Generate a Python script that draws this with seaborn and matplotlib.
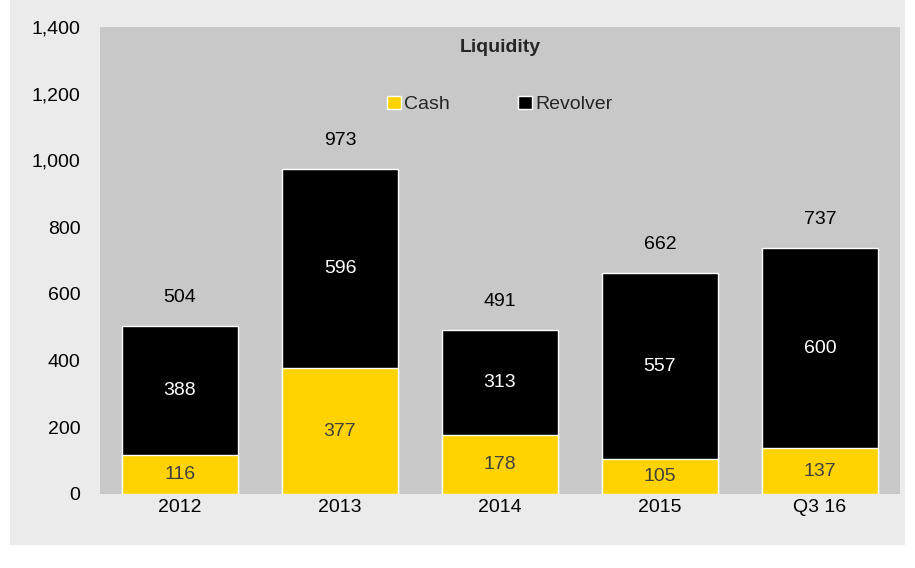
import matplotlib
matplotlib.use("Agg")
import matplotlib.pyplot as plt
import seaborn as sns
import pandas as pd
from matplotlib.patches import Rectangle

categories = ["2012", "2013", "2014", "2015", "Q3 16"]
cash = [116, 377, 178, 105, 137]
revolver = [388, 596, 313, 557, 600]
totals = [504, 973, 491, 662, 737]

sns.set_theme(style="white")
plt.rcParams['font.family'] = ['Liberation Sans', 'DejaVu Sans']

df = pd.DataFrame({"cat": categories, "cash": cash, "revolver": revolver, "total": totals})

fig = plt.figure(figsize=(9.15, 5.68), dpi=100)
bg = Rectangle((10/915, 1-545/568), 895/915, 545/568, transform=fig.transFigure,
               facecolor="#ebebeb", edgecolor="none", zorder=-10)
fig.patches.append(bg)
ax = fig.add_axes([100/915, 1-494/568, 800/915, 467/568])
ax.set_zorder(5)
ax.set_facecolor("#c8c8c8")

sns.barplot(data=df, x="cat", y="total", color="black", width=0.73, ax=ax, label="Revolver",
            saturation=1)
sns.barplot(data=df, x="cat", y="cash", color="#FFD200", width=0.73, ax=ax, label="Cash",
            saturation=1)

for i in range(len(categories)):
    ax.text(i, cash[i]/2, str(cash[i]), ha="center", va="center", fontsize=14, color="#404040")
    ax.text(i, cash[i] + revolver[i]/2, str(revolver[i]), ha="center", va="center", fontsize=14, color="white")
    ax.text(i, totals[i] + 86, str(totals[i]), ha="center", va="center", fontsize=14, color="black")

ax.set_ylim(0, 1400)
ax.set_xlim(-0.5, 4.5)
ax.set_yticks(range(0, 1401, 200))
ax.set_yticklabels([f"{v:,}" for v in range(0, 1401, 200)])
ax.tick_params(axis="both", labelsize=14, length=0, colors="black")
ax.tick_params(axis="y", pad=14)
ax.set_xlabel("")
ax.set_ylabel("")
for s in ax.spines.values():
    s.set_visible(False)

h, l = ax.get_legend_handles_labels()
order = [l.index("Cash"), l.index("Revolver")]
ax.legend([h[i] for i in order], [l[i] for i in order], loc="upper center",
          bbox_to_anchor=(0.5, 0.89), ncol=2, frameon=False, fontsize=14,
          handlelength=0.7, handleheight=0.7, columnspacing=3.5, handletextpad=0.2)
ax.text(0.5, 0.957, "Liquidity", transform=ax.transAxes, ha="center", va="center",
        fontsize=14, fontweight="bold")

fig.savefig("out.png", dpi=100)
